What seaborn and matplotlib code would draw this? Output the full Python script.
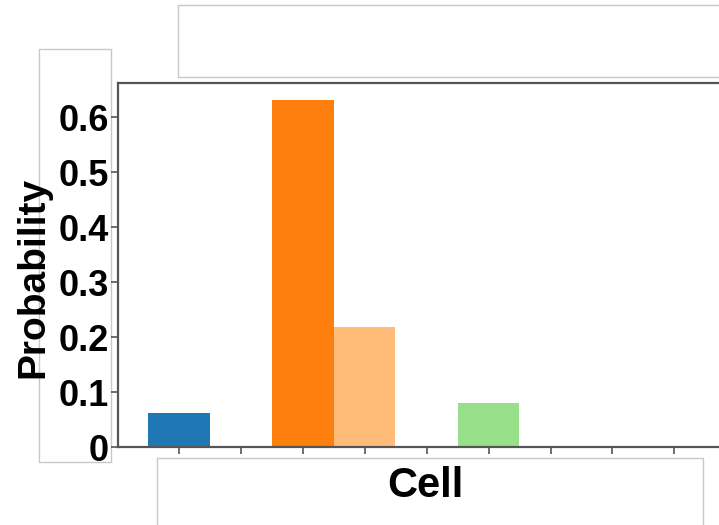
import matplotlib
matplotlib.use("Agg")
import matplotlib.pyplot as plt
import seaborn as sns
import pandas as pd
from matplotlib.patches import Rectangle

# Probability per cell
cells = ["0", "1", "2", "3", "4", "5", "6", "7", "8", "9"]
probability = [0.062, 0.0, 0.631, 0.218, 0.0, 0.080, 0.0, 0.0, 0.0, 0.0]
y_ticks = [0, 0.1, 0.2, 0.3, 0.4, 0.5, 0.6]
y_tick_labels = ["0", "0.1", "0.2", "0.3", "0.4", "0.5", "0.6"]

df = pd.DataFrame({"Cell": cells, "Probability": probability})

sns.set_theme(style="white")
plt.rcParams["font.family"] = ["Liberation Sans", "DejaVu Sans"]
plt.rcParams["font.weight"] = "bold"

W, H = 719, 525
fig = plt.figure(figsize=(W / 100, H / 100), dpi=100)
fig.patch.set_facecolor("white")

left_px, right_px, top_px, bottom_px = 118, 719, 82.5, 447.3
ax = fig.add_axes([left_px / W, 1 - bottom_px / H,
                   (right_px - left_px) / W, (bottom_px - top_px) / H])

palette = sns.color_palette("tab20", len(cells))
sns.barplot(data=df, x="Cell", y="Probability", hue="Cell", palette=palette,
            saturation=1, width=0.99, linewidth=0, legend=False, ax=ax)

ax.set_yticks(y_ticks)
ax.set_yticklabels(y_tick_labels)
ax.set_xticks(range(len(cells)))
ax.set_xticklabels([""] * len(cells))
ax.set_ylim(0, 0.663)
ax.set_xlim(-0.985, 8.72)

spine_color = "#555555"
for side in ["left", "top", "bottom"]:
    ax.spines[side].set_color(spine_color)
    ax.spines[side].set_linewidth(1.6)
ax.spines["right"].set_visible(False)

ax.tick_params(axis="both", which="major", direction="out", length=5,
               width=1.2, color=spine_color, bottom=True, left=True)
ax.tick_params(axis="y", labelsize=26, pad=1.5)
for lbl in ax.get_yticklabels():
    lbl.set_fontweight("bold")
    lbl.set_color("black")

ax.set_xlabel("Cell", fontsize=30, fontweight="bold", color="black")
ax.set_ylabel("Probability", fontsize=28, fontweight="bold", color="black")
ax.xaxis.label.set_va("center")
ax.yaxis.label.set_va("center")
ax.xaxis.set_label_coords((425 - left_px) / (right_px - left_px),
                          (bottom_px - 486) / (bottom_px - top_px))
ax.yaxis.set_label_coords((33 - left_px) / (right_px - left_px),
                          (bottom_px - 277) / (bottom_px - top_px))


def frame(x0, y0, x1, y1):
    fig.add_artist(Rectangle((x0 / W, 1 - y1 / H), (x1 - x0) / W, (y1 - y0) / H,
                             transform=fig.transFigure, facecolor="white",
                             edgecolor="#c8c8c8", linewidth=1.0, zorder=-1))


# framed regions around the title, the y tick labels and the x axis title
frame(178, 5, 725, 77)
frame(38.5, 48.5, 110.5, 462)
frame(157, 458, 703, 530)

fig.savefig("out.png", dpi=100, facecolor="white")
